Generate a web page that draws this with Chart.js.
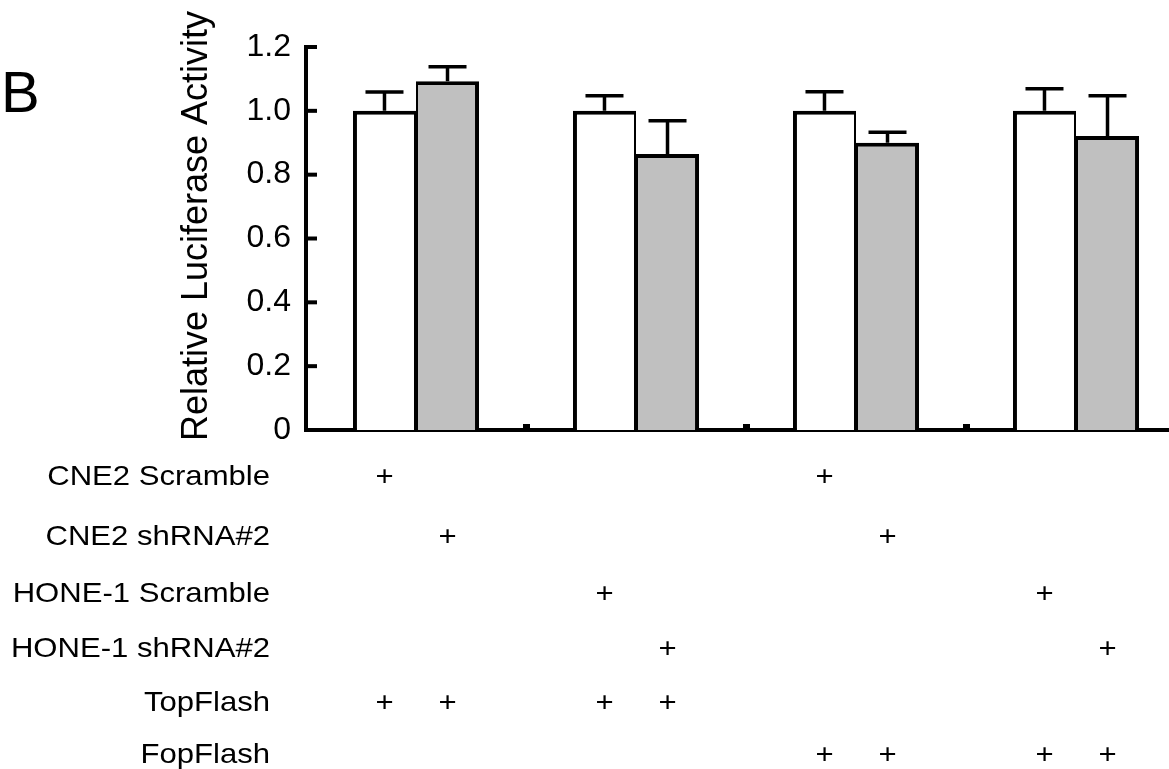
<!DOCTYPE html>
<html>
<head>
<meta charset="utf-8">
<script src="https://cdn.jsdelivr.net/npm/chart.js@4"></script>
<style>
  html, body { margin: 0; padding: 0; background: #fff; overflow: hidden; }
  #wrap { width: 1186px; height: 769px; }
</style>
</head>
<body>
<div id="wrap"><canvas id="grafico" width="1186" height="769"></canvas></div>
<script>
const grupos = ['CNE2 TopFlash', 'HONE-1 TopFlash', 'CNE2 FopFlash', 'HONE-1 FopFlash'];
const scramble = [1.0, 1.0, 1.0, 1.0];
const scrambleErr = [0.059, 0.047, 0.060, 0.069];
const shrna = [1.093, 0.865, 0.900, 0.921];
const shrnaErr = [0.045, 0.104, 0.033, 0.126];
const yTicks = [0, 0.2, 0.4, 0.6, 0.8, 1.0, 1.2];

const linhas = ['CNE2 Scramble', 'CNE2 shRNA#2', 'HONE-1 Scramble', 'HONE-1 shRNA#2', 'TopFlash', 'FopFlash'];
// um "+" por barra, na ordem das barras (grupo 1 branca, grupo 1 cinza, ...)
const marcas = [
    [1, 0, 0, 0, 1, 0, 0, 0],
    [0, 1, 0, 0, 0, 1, 0, 0],
    [0, 0, 1, 0, 0, 0, 1, 0],
    [0, 0, 0, 1, 0, 0, 0, 1],
    [1, 1, 1, 1, 0, 0, 0, 0],
    [0, 0, 0, 0, 1, 1, 1, 1]
];

const fonte = '"Liberation Sans", Arial, sans-serif';
const erros = [scrambleErr, shrnaErr];

// texto um pouco esticado na horizontal, como na figura original
function textoLargo(ctx, txt, x, y) {
    ctx.save();
    ctx.translate(x, y);
    ctx.scale(1.11, 1);
    ctx.fillText(txt, 0, 0);
    ctx.restore();
}

const extras = {
    id: 'extras',
    afterDatasetsDraw(chart) {
        const ctx = chart.ctx;
        const y = chart.scales.y;
        ctx.save();
        ctx.strokeStyle = '#000';
        ctx.lineWidth = 3.5;
        erros.forEach((errs, d) => {
            chart.getDatasetMeta(d).data.forEach((bar, i) => {
                const topo = y.getPixelForValue(chart.data.datasets[d].data[i] + errs[i]);
                ctx.beginPath();
                ctx.moveTo(bar.x, bar.y);
                ctx.lineTo(bar.x, topo);
                ctx.moveTo(bar.x - 19, topo);
                ctx.lineTo(bar.x + 19, topo);
                ctx.stroke();
            });
        });
        ctx.restore();
    },
    afterDraw(chart) {
        const ctx = chart.ctx;
        const x = chart.scales.x;
        const y = chart.scales.y;
        const area = chart.chartArea;
        ctx.save();
        ctx.fillStyle = '#000';
        ctx.strokeStyle = '#000';

        // marcas do eixo y para dentro
        ctx.lineWidth = 4;
        yTicks.forEach(v => {
            if (v === 0) return;
            const py = y.getPixelForValue(v);
            ctx.beginPath();
            ctx.moveTo(area.left, py);
            ctx.lineTo(area.left + 11, py);
            ctx.stroke();
        });

        // pequenas marcas entre os grupos
        for (let i = 1; i < grupos.length; i++) {
            const bx = (x.getPixelForValue(i - 1) + x.getPixelForValue(i)) / 2;
            ctx.fillRect(bx - 3, area.bottom - 6, 7, 6);
        }

        // título do eixo y
        ctx.save();
        ctx.translate(197, 226);
        ctx.rotate(-Math.PI / 2);
        ctx.font = '36px ' + fonte;
        ctx.textAlign = 'center';
        ctx.textBaseline = 'middle';
        ctx.fillText('Relative Luciferase Activity', 0, 0);
        ctx.restore();

        // letra do painel
        ctx.font = '58px ' + fonte;
        ctx.textAlign = 'left';
        ctx.textBaseline = 'alphabetic';
        ctx.fillText('B', 1, 112);

        // tabela de condições
        const linhaY = [477, 537, 594, 649, 703, 755];
        ctx.font = '28px ' + fonte;
        ctx.textBaseline = 'middle';
        linhas.forEach((nome, r) => {
            ctx.textAlign = 'right';
            textoLargo(ctx, nome, 270, linhaY[r]);
            ctx.textAlign = 'center';
            marcas[r].forEach((m, c) => {
                if (!m) return;
                const bar = chart.getDatasetMeta(c % 2).data[Math.floor(c / 2)];
                textoLargo(ctx, '+', bar.x, linhaY[r]);
            });
        });
        ctx.restore();
    }
};

const ctx = document.getElementById('grafico').getContext('2d');
new Chart(ctx, {
    type: 'bar',
    data: {
        labels: grupos,
        datasets: [
            {
                label: 'Scramble',
                data: scramble,
                backgroundColor: '#ffffff',
                borderColor: '#000000',
                borderWidth: { top: 4, left: 4, right: 2, bottom: 0 },
                borderSkipped: false,
                categoryPercentage: 0.573,
                barPercentage: 1
            },
            {
                label: 'shRNA#2',
                data: shrna,
                backgroundColor: '#c0c0c0',
                borderColor: '#000000',
                borderWidth: { top: 4, left: 2, right: 4, bottom: 0 },
                borderSkipped: false,
                categoryPercentage: 0.573,
                barPercentage: 1
            }
        ]
    },
    options: {
        responsive: false,
        animation: false,
        layout: { padding: { top: 47, left: 0, right: 0, bottom: 0 } },
        plugins: {
            legend: { display: false },
            tooltip: { enabled: false }
        },
        scales: {
            x: {
                offset: true,
                grid: { display: false, drawTicks: false, offset: true },
                border: { display: true, color: '#000', width: 4 },
                ticks: { display: false },
                afterFit: s => { s.height = 339; }
            },
            y: {
                min: 0,
                max: 1.2,
                afterBuildTicks: s => { s.ticks = yTicks.map(v => ({ value: v })); },
                afterFit: s => { s.width = 306; },
                grid: { display: false, drawTicks: false },
                border: { display: true, color: '#000', width: 4 },
                ticks: {
                    color: '#000',
                    padding: 15,
                    font: { family: fonte, size: 32 },
                    callback: v => v === 0 ? '0' : v.toFixed(1)
                }
            }
        }
    },
    plugins: [extras]
});
</script>
</body>
</html>
